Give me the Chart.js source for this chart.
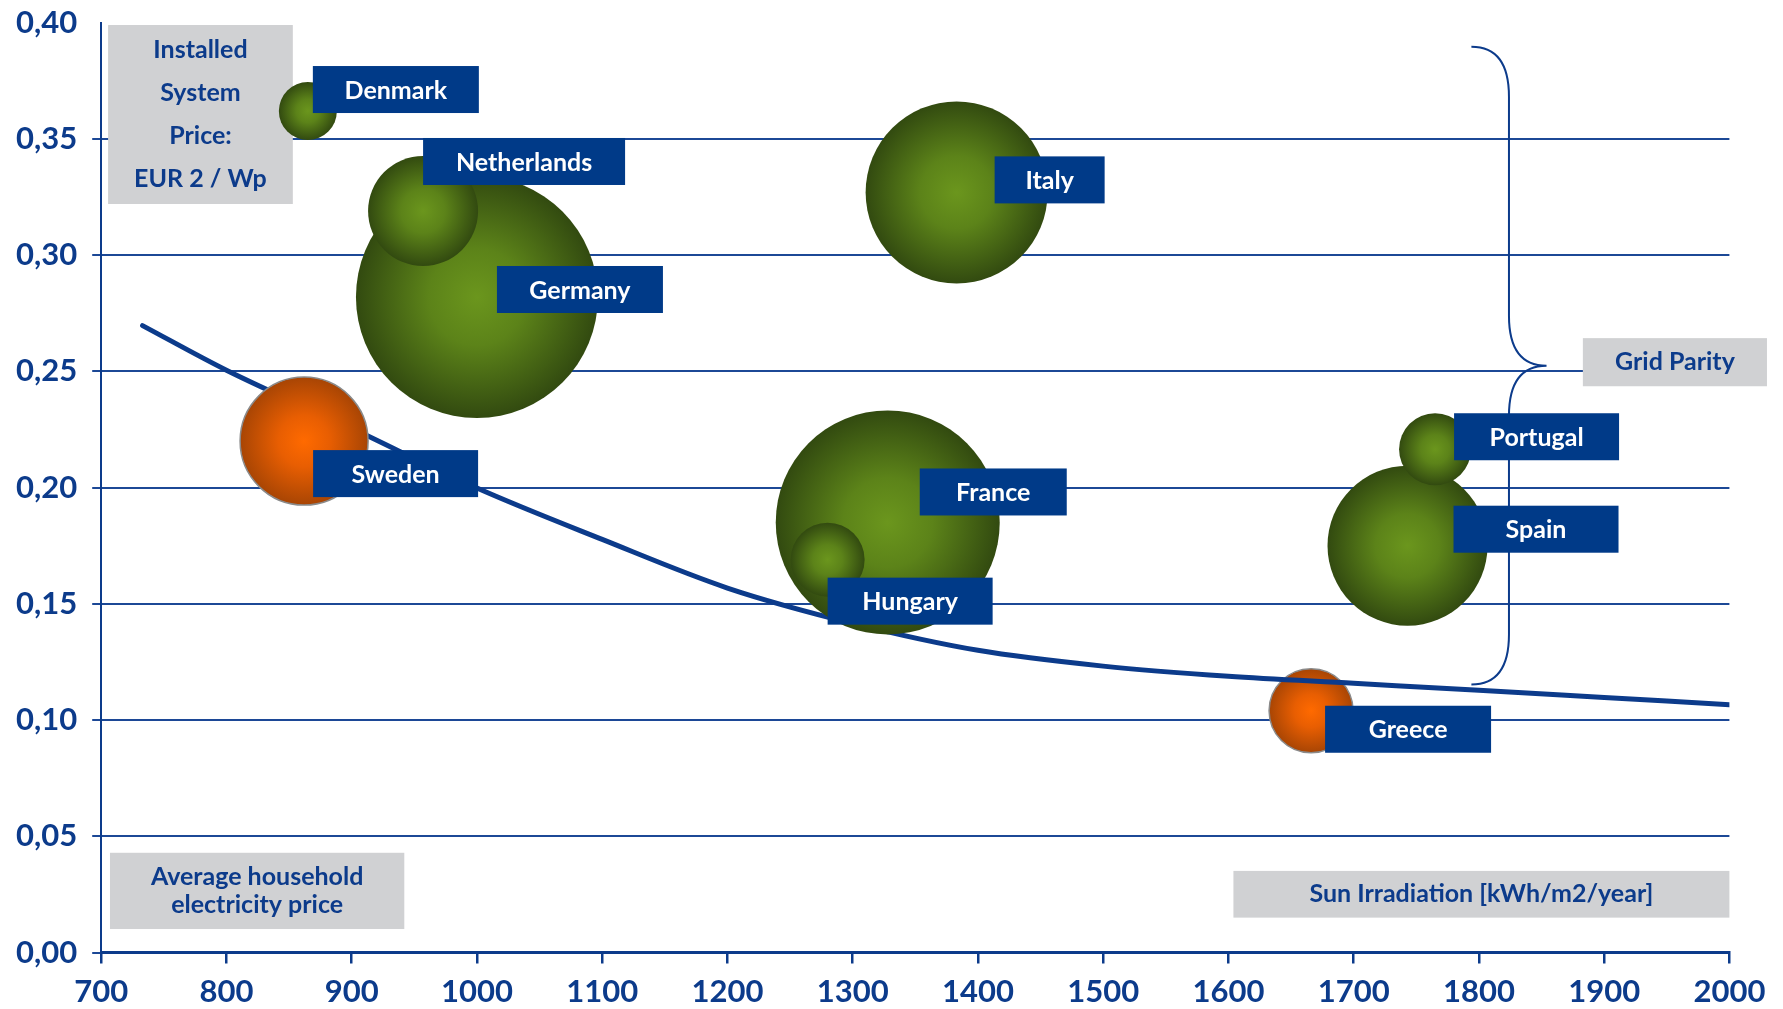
<!DOCTYPE html>
<html>
<head>
<meta charset="utf-8">
<script src="https://cdn.jsdelivr.net/npm/chart.js@4.4.1/dist/chart.umd.min.js"></script>
<style>
  html, body { margin: 0; padding: 0; background: #fff; }
</style>
</head>
<body>
<canvas id="chart" width="1783" height="1009"></canvas>
<script>
// bubbles: sun irradiation vs household electricity price
const countries = ['Denmark', 'Germany', 'Netherlands', 'Italy', 'Sweden', 'France', 'Hungary', 'Spain', 'Portugal', 'Greece'];
const irradiation = [865, 1000, 957, 1383, 862, 1328, 1280, 1743, 1765, 1666];
const electricityPrice = [0.362, 0.282, 0.319, 0.327, 0.220, 0.185, 0.169, 0.175, 0.2165, 0.104];
const bubbleSize = [29, 121, 55, 91, 64, 112, 37, 80, 36, 42];

// grid parity curve (EUR 2 / Wp)
const curveX = [733, 800, 900, 1000, 1100, 1200, 1300, 1400, 1500, 1600, 1700, 1800, 1900, 2000];
const curveY = [0.2697, 0.2505, 0.2255, 0.1998, 0.1777, 0.1568, 0.1416, 0.1300, 0.1232, 0.1188, 0.1158, 0.1128, 0.1097, 0.1066];

const orangeOnes = ['Sweden', 'Greece'];
const belowCurve = ['Greece'];

const navy = '#0c3b8b';
const boxBlue = '#003a88';
const grey = '#d0d1d3';
const gridBlue = '#1c4896';

// label box: offset from bubble centre (dx, dy) and width
const labelBox = {
  Denmark: [5, -45, 166],
  Netherlands: [0, -73, 202],
  Germany: [20, -31, 166],
  Italy: [38, -36, 110],
  Sweden: [9, 9, 165],
  France: [32, -54, 147],
  Hungary: [0, 18, 165],
  Portugal: [19, -36, 165],
  Spain: [46, -40, 165],
  Greece: [14, -5, 166]
};

function points(filterFn) {
  return countries.map((c, i) => ({ x: irradiation[i], y: electricityPrice[i], r: bubbleSize[i], name: c }))
    .filter(p => filterFn(p.name));
}

function bubbleFill(context) {
  const chart = context.chart;
  const raw = context.raw;
  if (context.type !== 'data' || !raw || !chart.chartArea) return '#4f7417';
  const px = chart.scales.x.getPixelForValue(raw.x);
  const py = chart.scales.y.getPixelForValue(raw.y);
  const g = chart.ctx.createRadialGradient(px, py, 0, px, py, raw.r);
  if (orangeOnes.includes(raw.name)) {
    g.addColorStop(0, '#ff6a00');
    g.addColorStop(0.4, '#e85e02');
    g.addColorStop(1, '#a84504');
  } else {
    g.addColorStop(0, '#6b961d');
    g.addColorStop(0.4, '#5c8319');
    g.addColorStop(1, '#324a10');
  }
  return g;
}

function bubbleBorder(context) {
  const raw = context.raw;
  return raw && orangeOnes.includes(raw.name) ? '#8a8a8a' : 'rgba(0,0,0,0)';
}

function note(ctx, x0, y0, x1, y1, lines, spacing) {
  ctx.fillStyle = grey;
  ctx.fillRect(x0, y0, x1 - x0, y1 - y0);
  ctx.fillStyle = navy;
  ctx.font = 'bold 25px Lato';
  ctx.textAlign = 'center';
  ctx.textBaseline = 'middle';
  const cx = (x0 + x1) / 2, cy = (y0 + y1) / 2;
  lines.forEach((t, i) => {
    ctx.fillText(t, cx, cy + (i - (lines.length - 1) / 2) * spacing);
  });
}

const annotations = {
  id: 'annotations',
  beforeDatasetsDraw(chart) {
    const { ctx, scales: { x, y } } = chart;
    const X = v => x.getPixelForValue(v), Y = v => y.getPixelForValue(v);
    ctx.save();
    note(ctx, X(705.5), Y(0.399), X(853), Y(0.322), ['Installed', 'System', 'Price:', 'EUR 2 / Wp'], 43);
    note(ctx, X(707), Y(0.0429), X(942), Y(0.0101), ['Average household', 'electricity price'], 28.5);
    note(ctx, X(1604), Y(0.0351), X(2000), Y(0.0150), ['Sun Irradiation [kWh/m2/year]'], 0);
    note(ctx, X(1883), Y(0.2643), X(2030), Y(0.2436), ['Grid Parity'], 0);

    // curly brace marking the grid parity range
    const xe = X(1794), xv = X(1824), xt = X(1854);
    const yT = Y(0.3897), yM = Y(0.2524), yB = Y(0.1153);
    const k = 50;
    ctx.strokeStyle = navy;
    ctx.lineWidth = 2;
    ctx.beginPath();
    ctx.moveTo(xe, yT);
    ctx.quadraticCurveTo(xv, yT, xv, yT + k);
    ctx.lineTo(xv, yM - k);
    ctx.quadraticCurveTo(xv, yM, xt, yM);
    ctx.quadraticCurveTo(xv, yM, xv, yM + k);
    ctx.lineTo(xv, yB - k);
    ctx.quadraticCurveTo(xv, yB, xe, yB);
    ctx.stroke();
    ctx.restore();
  },
  afterDatasetsDraw(chart) {
    const ctx = chart.ctx;
    ctx.save();
    ctx.font = 'bold 25px Lato';
    ctx.textAlign = 'center';
    ctx.textBaseline = 'middle';
    chart.data.datasets.forEach((ds, di) => {
      if (ds.type === 'line') return;
      chart.getDatasetMeta(di).data.forEach((el, j) => {
        const name = ds.data[j].name;
        const [dx, dy, w] = labelBox[name];
        const h = 47;
        const bx = el.x + dx, by = el.y + dy;
        ctx.fillStyle = boxBlue;
        ctx.fillRect(bx, by, w, h);
        ctx.fillStyle = '#ffffff';
        ctx.fillText(name, bx + w / 2, by + h / 2 + 1);
      });
    });
    ctx.restore();
  }
};

new Chart(document.getElementById('chart').getContext('2d'), {
  type: 'bubble',
  data: {
    datasets: [
      {
        label: 'countries',
        data: points(n => !belowCurve.includes(n)),
        backgroundColor: bubbleFill,
        borderColor: bubbleBorder,
        borderWidth: 1.5,
        clip: false,
        order: 0
      },
      {
        type: 'line',
        label: 'grid parity',
        data: curveX.map((v, i) => ({ x: v, y: curveY[i] })),
        borderColor: navy,
        borderWidth: 5,
        borderCapStyle: 'round',
        pointRadius: 0,
        cubicInterpolationMode: 'monotone',
        fill: false,
        order: 1
      },
      {
        label: 'below curve',
        data: points(n => belowCurve.includes(n)),
        backgroundColor: bubbleFill,
        borderColor: bubbleBorder,
        borderWidth: 1.5,
        clip: false,
        order: 2
      }
    ]
  },
  options: {
    responsive: false,
    animation: false,
    layout: { autoPadding: false, padding: { top: 22.7, right: 53.6, left: 0, bottom: 0 } },
    plugins: {
      legend: { display: false },
      tooltip: { enabled: false }
    },
    scales: {
      x: {
        type: 'linear',
        min: 700,
        max: 2000,
        afterFit: s => { s.height = 56.5; },
        border: { display: true, color: navy, width: 3 },
        grid: { drawOnChartArea: false, drawTicks: true, tickLength: 11, color: navy, lineWidth: 2.5 },
        ticks: {
          stepSize: 100,
          color: navy,
          padding: 10,
          maxRotation: 0,
          font: { family: 'Lato', weight: 'bold', size: 31 },
          callback: v => String(v)
        }
      },
      y: {
        min: 0,
        max: 0.4,
        afterFit: s => { s.width = 101.2; s.paddingTop = 0; s.paddingBottom = 0; },
        border: { display: true, color: navy, width: 2 },
        grid: {
          color: c => (c.tick && Math.abs(c.tick.value - 0.4) < 1e-9) ? 'rgba(0,0,0,0)' : gridBlue,
          lineWidth: 2,
          tickLength: 9
        },
        ticks: {
          stepSize: 0.05,
          color: navy,
          padding: 15,
          font: { family: 'Lato', weight: 'bold', size: 31 },
          callback: v => v.toFixed(2).replace('.', ',')
        }
      }
    }
  },
  plugins: [annotations]
});
</script>
</body>
</html>
